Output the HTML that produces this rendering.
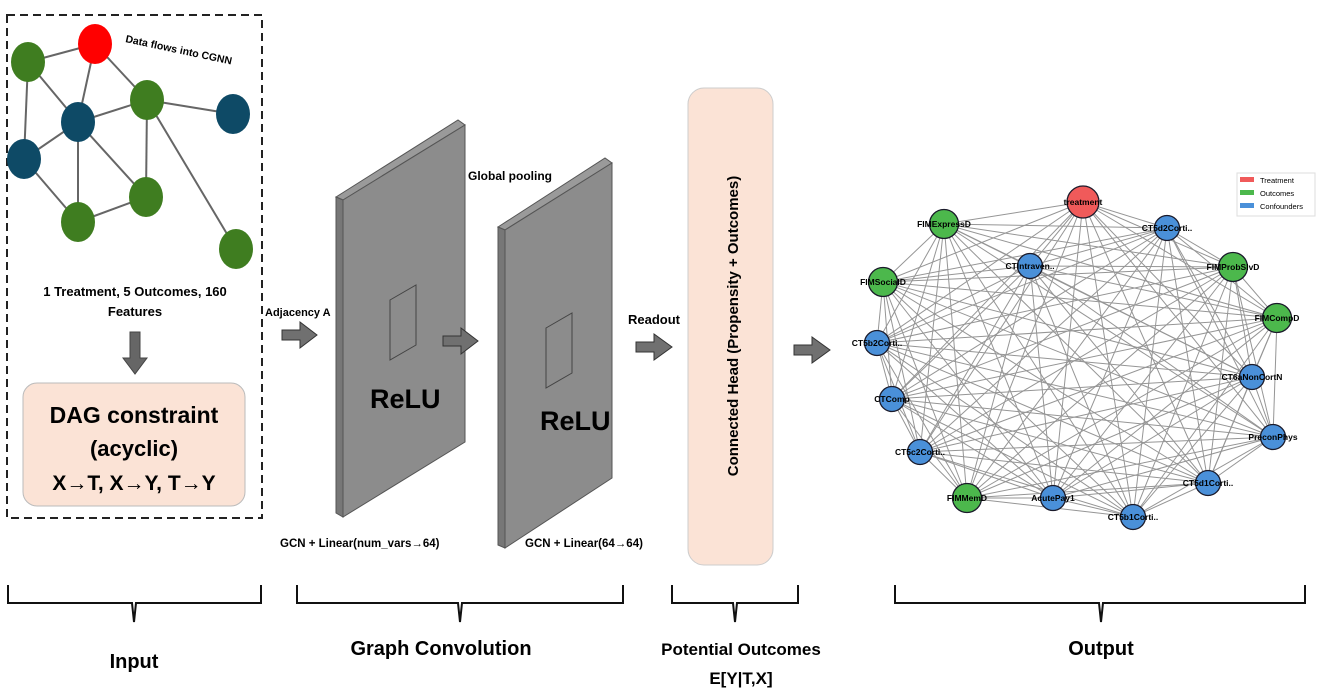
<!DOCTYPE html>
<html><head><meta charset="utf-8"><style>
html,body{margin:0;padding:0;background:#fff;}
svg{display:block;font-family:"Liberation Sans",sans-serif;}
</style></head><body>
<svg id="s" width="1325" height="692" viewBox="0 0 1325 692" xmlns="http://www.w3.org/2000/svg">
<rect width="1325" height="692" fill="#fff"/>
<rect x="7" y="15" width="255" height="503" fill="none" stroke="#222" stroke-width="2" stroke-dasharray="8,5"/>
<g stroke="#666" stroke-width="2">
<line x1="95" y1="44" x2="28" y2="62"/><line x1="95" y1="44" x2="78" y2="122"/><line x1="95" y1="44" x2="147" y2="100"/>
<line x1="28" y1="62" x2="78" y2="122"/><line x1="28" y1="62" x2="24" y2="159"/>
<line x1="78" y1="122" x2="147" y2="100"/><line x1="78" y1="122" x2="24" y2="159"/><line x1="78" y1="122" x2="78" y2="222"/><line x1="78" y1="122" x2="146" y2="197"/>
<line x1="147" y1="100" x2="233" y2="114"/><line x1="147" y1="100" x2="146" y2="197"/><line x1="147" y1="100" x2="236" y2="249"/>
<line x1="24" y1="159" x2="78" y2="222"/><line x1="78" y1="222" x2="146" y2="197"/>
</g>
<ellipse cx="95" cy="44" rx="17" ry="20" fill="#ff0000"/>
<g fill="#3f7d20"><ellipse cx="28" cy="62" rx="17" ry="20"/><ellipse cx="147" cy="100" rx="17" ry="20"/><ellipse cx="146" cy="197" rx="17" ry="20"/><ellipse cx="78" cy="222" rx="17" ry="20"/><ellipse cx="236" cy="249" rx="17" ry="20"/></g>
<g fill="#0e4a66"><ellipse cx="78" cy="122" rx="17" ry="20"/><ellipse cx="233" cy="114" rx="17" ry="20"/><ellipse cx="24" cy="159" rx="17" ry="20"/></g>
<text x="125" y="42" font-size="10.5" font-weight="bold" transform="rotate(12 125 42)">Data flows into CGNN</text>
<text x="135" y="296" font-size="13" font-weight="bold" text-anchor="middle">1 Treatment, 5 Outcomes, 160</text>
<text x="135" y="316" font-size="13" font-weight="bold" text-anchor="middle">Features</text>
<polygon points="130,332 140,332 140,358 147,358 135,374 123,358 130,358" fill="#666" stroke="#444"/>
<rect x="23" y="383" width="222" height="123" rx="14" fill="#fbe3d6" stroke="#bbb"/>
<text x="134" y="423" font-size="23" font-weight="bold" text-anchor="middle">DAG constraint</text>
<text x="134" y="456" font-size="22" text-anchor="middle" font-weight="bold">(acyclic)</text>
<text x="134" y="490" font-size="21" text-anchor="middle" font-weight="bold">X→T, X→Y, T→Y</text>
<text x="265" y="316" font-size="11" font-weight="bold">Adjacency A</text>
<text x="468" y="180" font-size="12" font-weight="bold">Global pooling</text>
<text x="628" y="324" font-size="13" font-weight="bold">Readout</text>
<!-- slab1 -->
<polygon points="336,197 458,120 465,125 343,200" fill="#9a9a9a" stroke="#555"/>
<polygon points="336,197 343,200 343,517 336,513" fill="#777" stroke="#555"/>
<polygon points="343,200 465,125 465,442 343,517" fill="#8c8c8c" stroke="#555"/>
<polygon points="390,300 416,285 416,345 390,360" fill="#8c8c8c" stroke="#444"/>
<text x="370" y="408" font-size="27" font-weight="bold">ReLU</text>
<!-- slab2 -->
<polygon points="498,227 605,158 612,163 505,230" fill="#9a9a9a" stroke="#555"/>
<polygon points="498,227 505,230 505,548 498,545" fill="#777" stroke="#555"/>
<polygon points="505,230 612,163 612,478 505,548" fill="#8c8c8c" stroke="#555"/>
<polygon points="546,328 572,313 572,373 546,388" fill="#8c8c8c" stroke="#444"/>
<text x="540" y="430" font-size="27" font-weight="bold">ReLU</text>
<!-- arrows -->
<g fill="#707070" stroke="#333" stroke-width="1">
<polygon points="282,330 300,330 300,322 317,335 300,348 300,340 282,340"/>
<polygon points="443,336 461,336 461,328 478,341 461,354 461,346 443,346"/>
<polygon points="636,342 654,342 654,334 672,347 654,360 654,352 636,352"/>
<polygon points="794,345 812,345 812,337 830,350 812,363 812,355 794,355"/>
</g>
<text x="280" y="547" font-size="11.5" font-weight="bold">GCN + Linear(num_vars→64)</text>
<text x="525" y="547" font-size="11.5" font-weight="bold">GCN + Linear(64→64)</text>
<rect x="688" y="88" width="85" height="477" rx="16" fill="#fbe3d6" stroke="#ccc"/>
<text x="0" y="0" font-size="15" font-weight="bold" text-anchor="middle" transform="translate(738 326) rotate(-90)">Connected Head (Propensity + Outcomes)</text>
<g id="edges" stroke="#8a8a8a" stroke-width="1" opacity="0.9"></g>
<g id="nodes"></g>
<rect x="1237" y="173" width="78" height="43" fill="#fff" stroke="#ddd"/>
<rect x="1240" y="177" width="14" height="5" fill="#f05a5a"/><text x="1260" y="183" font-size="7.5">Treatment</text>
<rect x="1240" y="190" width="14" height="5" fill="#4cb84c"/><text x="1260" y="196" font-size="7.5">Outcomes</text>
<rect x="1240" y="203" width="14" height="5" fill="#4a90d9"/><text x="1260" y="209" font-size="7.5">Confounders</text>
<g fill="none" stroke="#111" stroke-width="2">
<path d="M8,585 V603 H132 L134,622 L136,603 H261 V585"/>
<path d="M297,585 V603 H458 L460,622 L462,603 H623 V585"/>
<path d="M672,585 V603 H733 L735,622 L737,603 H798 V585"/>
<path d="M895,585 V603 H1099 L1101,622 L1103,603 H1305 V585"/>
</g>
<g font-size="20" font-weight="bold" text-anchor="middle">
<text x="134" y="668">Input</text>
<text x="441" y="655">Graph Convolution</text>
<text x="741" y="655" font-size="17">Potential Outcomes</text>
<text x="741" y="684" font-size="17">E[Y|T,X]</text>
<text x="1101" y="655">Output</text>
</g>
</svg>
<script>
var N=[["treatment",1083,202,"t"],["FIMExpressD",944,224,"o"],["CT5d2Corti..",1167,228,"c"],["CTIntraven..",1030,266,"c"],["FIMProbSlvD",1233,267,"o"],["FIMSocialD",883,282,"o"],["FIMCompD",1277,318,"o"],["CT5b2Corti..",877,343,"c"],["CT6aNonCortN",1252,377,"c"],["CTComp",892,399,"c"],["PreconPhys",1273,437,"c"],["CT5c2Corti..",920,452,"c"],["CT5d1Corti..",1208,483,"c"],["FIMMemD",967,498,"o"],["AcutePay1",1053,498,"c"],["CT5b1Corti..",1133,517,"c"]];
var ns="http://www.w3.org/2000/svg",E=document.getElementById("edges"),G=document.getElementById("nodes");
for(var i=0;i<N.length;i++)for(var j=i+1;j<N.length;j++){var l=document.createElementNS(ns,"line");l.setAttribute("x1",N[i][1]);l.setAttribute("y1",N[i][2]);l.setAttribute("x2",N[j][1]);l.setAttribute("y2",N[j][2]);E.appendChild(l);}
var col={t:"#f05a5a",o:"#4cb84c",c:"#4a90d9"};
N.forEach(function(n){var c=document.createElementNS(ns,"circle");c.setAttribute("cx",n[1]);c.setAttribute("cy",n[2]);c.setAttribute("r",n[3]=="c"?12.5:n[3]=="t"?16:14.5);c.setAttribute("fill",col[n[3]]);c.setAttribute("stroke","#1a1a2a");c.setAttribute("stroke-width","1.3");G.appendChild(c);});
N.forEach(function(n){var t=document.createElementNS(ns,"text");t.setAttribute("x",n[1]);t.setAttribute("y",n[2]+3);t.setAttribute("font-size","8.5");t.setAttribute("font-weight","bold");t.setAttribute("text-anchor","middle");t.textContent=n[0];G.appendChild(t);});
</script>
</body></html>
